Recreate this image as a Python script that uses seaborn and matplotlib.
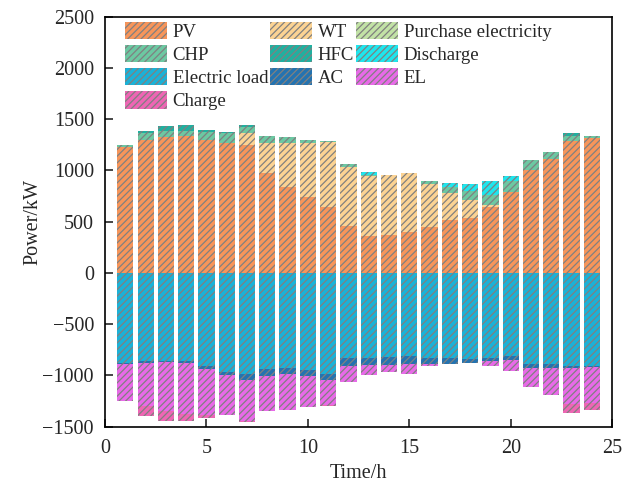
import numpy as np
import pandas as pd
import matplotlib
matplotlib.use("Agg")
import matplotlib.pyplot as plt
from matplotlib.patches import Patch
import seaborn as sns

hours = list(range(1, 25))

# Supply side (kW)
pv = [1232, 1294, 1330, 1336, 1294, 1271, 1248, 977, 836, 745, 644, 461,
      356, 372, 395, 444, 513, 532, 644, 787, 1009, 1114, 1284, 1313]
wt = [0, 0, 0, 0, 0, 0, 121, 294, 435, 526, 637, 575,
      588, 582, 582, 425, 264, 180, 22, 0, 0, 0, 0, 0]
purchase = [0] * 24
chp = [19, 68, 58, 52, 78, 98, 52, 68, 52, 29, 10, 22,
       16, 6, 0, 26, 59, 92, 98, 111, 89, 62, 52, 20]
hfc = [0, 20, 46, 56, 26, 6, 26, 0, 0, 0, 0, 0,
       0, 0, 0, 0, 0, 0, 0, 0, 0, 0, 26, 0]
discharge = [0, 0, 0, 0, 0, 0, 0, 0, 0, 0, 0, 0,
             27, 0, 0, 0, 43, 68, 134, 52, 0, 0, 0, 0]

# Demand side (kW, plotted negative)
load = [879, 859, 862, 862, 911, 964, 990, 941, 928, 944, 990, 830,
        830, 820, 813, 826, 833, 836, 833, 813, 885, 892, 911, 911]
ac = [10, 20, 7, 17, 27, 36, 52, 65, 62, 65, 59, 75,
      69, 75, 72, 66, 52, 43, 26, 33, 39, 39, 13, 10]
el = [362, 418, 474, 496, 444, 385, 399, 343, 346, 301, 241, 160,
      98, 75, 98, 13, 0, 0, 49, 111, 190, 255, 353, 343]
charge = [0, 95, 98, 72, 29, 0, 9, 0, 0, 0, 10, 0,
          0, 0, 0, 0, 0, 0, 0, 0, 0, 0, 92, 72]

pos_names = ["PV", "WT", "Purchase electricity", "CHP", "HFC", "Discharge"]
pos_vals = [pv, wt, purchase, chp, hfc, discharge]
pos_cols = ["#F7955A", "#FCD393", "#C2E2A6", "#6CC8A2", "#20B0A0", "#1EE6EE"]

neg_names = ["Electric load", "AC", "EL", "Charge"]
neg_vals = [load, ac, el, charge]
neg_cols = ["#1AB2D8", "#2473B0", "#E86AE8", "#EE66B4"]

HATCH = "/////"

sns.set_style("ticks")
plt.rcParams["font.family"] = ["Liberation Serif", "DejaVu Serif"]
plt.rcParams["hatch.linewidth"] = 0.9
plt.rcParams["axes.linewidth"] = 1.2

fig = plt.figure(figsize=(6.33, 4.82), dpi=100)
ax = fig.add_axes([0.166, 0.1147, 0.801, 0.8507])

def stack(names, vals, cols, sign):
    cum = np.cumsum(np.array(vals, dtype=float), axis=0) * sign
    # draw from outermost layer inward so lower layers cover upper ones
    for i in range(len(names) - 1, -1, -1):
        df = pd.DataFrame({"Time": hours, "Power": cum[i]})
        sns.barplot(data=df, x="Time", y="Power", native_scale=True,
                    color=cols[i], saturation=1, width=0.8, errorbar=None,
                    hatch=HATCH, edgecolor="gray", linewidth=0, ax=ax)

stack(pos_names, pos_vals, pos_cols, 1)
stack(neg_names, neg_vals, neg_cols, -1)

ax.set_xlim(0, 25)
ax.set_ylim(-1500, 2500)
ax.set_xticks(range(0, 26, 5))
ax.set_yticks(range(-1500, 2501, 500))
ax.set_xlabel("Time/h", fontsize=14.5, labelpad=4)
ax.set_ylabel("Power/kW", fontsize=14.5, labelpad=0)
ax.tick_params(direction="in", length=6, width=1.2, labelsize=14.5,
               top=False, right=False)
ax.tick_params(axis="x", pad=9)
ax.tick_params(axis="y", pad=8)
for s in ax.spines.values():
    s.set_visible(True)
    s.set_color("black")

names_all = pos_names + neg_names
cols_all = pos_cols + neg_cols
handles = {n: Patch(facecolor=c, edgecolor="gray", linewidth=0, hatch=HATCH)
           for n, c in zip(names_all, cols_all)}
order = ["PV", "CHP", "Electric load", "Charge", "WT", "HFC", "AC",
         "Purchase electricity", "Discharge", "EL"]
ax.legend([handles[n] for n in order], order, ncols=3, loc="upper left",
          bbox_to_anchor=(0.039, 0.988), borderaxespad=0, borderpad=0,
          frameon=False, fontsize=13.5, handlelength=2.25, handleheight=1.05,
          handletextpad=0.3, columnspacing=0.1, labelspacing=0.22)

fig.savefig("out.png", dpi=100)
